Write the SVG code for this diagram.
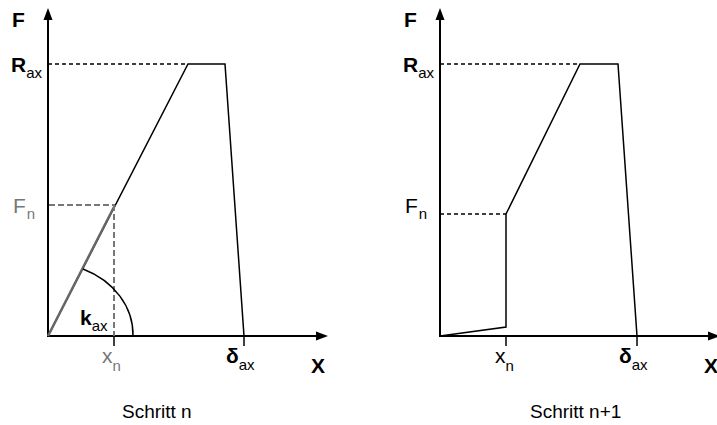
<svg xmlns="http://www.w3.org/2000/svg" width="717" height="425" viewBox="0 0 717 425">
<style>
.ax{stroke:#000;stroke-width:2;fill:none}
.ln{stroke:#000;stroke-width:1.5;fill:none}
.dash{stroke:#000;stroke-width:1.5;stroke-dasharray:4 3;fill:none}
.gdash{stroke:#777;stroke-width:2;stroke-dasharray:6 3;fill:none}
.t{font-family:"Liberation Sans",Arial,sans-serif}
.b{font-weight:bold;font-size:21px;fill:#000}
.s{font-size:15px}
.n{font-size:21px}
.cap{font-size:19px;fill:#000}
</style>
<rect width="717" height="425" fill="#fff"/>
<g id="chart-left">
  <g id="axes-left">
    <line class="ax" x1="48" y1="337" x2="48" y2="18"/>
    <polygon points="48,8 43.5,20 52.5,20" fill="#000"/>
    <line class="ax" x1="47" y1="336" x2="318" y2="336"/>
    <polygon points="328,336 316,331.5 316,340.5" fill="#000"/>
  </g>
  <g id="curve-left">
    <line class="dash" x1="48" y1="64" x2="188" y2="64"/>
    <polyline class="ln" points="48,336 188,64 225,64 244,336"/>
    <line class="ln" x1="244" y1="336" x2="244" y2="346"/>
    <line x1="48" y1="336" x2="115" y2="205" stroke="#666" stroke-width="2.5"/>
    <line class="gdash" x1="49" y1="205" x2="115" y2="205"/>
    <line class="gdash" x1="114" y1="205" x2="114" y2="336"/>
    <line class="ln" x1="114" y1="336" x2="114" y2="346"/>
    <path class="ln" d="M83,269 A85,72 0 0 1 133,336"/>
  </g>
  <g id="labels-left" class="t">
    <text class="b" x="12" y="27">F</text>
    <text class="b" x="11" y="72">R<tspan class="s" font-weight="normal" dy="6">ax</tspan></text>
    <text class="n" x="13" y="213" fill="#777">F<tspan class="s" dx="1" dy="6">n</tspan></text>
    <text class="b" x="80" y="325">k<tspan class="s" font-weight="normal" dy="6">ax</tspan></text>
    <text class="n" x="102" y="363" fill="#777">x<tspan class="s" dy="8">n</tspan></text>
    <text class="b" x="226" y="363">δ<tspan class="s" font-weight="normal" dy="7">ax</tspan></text>
    <text class="b" x="311" y="373" font-size="22">X</text>
    <text class="cap" x="122" y="418">Schritt n</text>
  </g>
</g>
<g id="chart-right">
  <g id="axes-right">
    <line class="ax" x1="440" y1="337" x2="440" y2="18"/>
    <polygon points="440,8 435.5,20 444.5,20" fill="#000"/>
    <line class="ax" x1="439" y1="336" x2="710" y2="336"/>
    <polygon points="720,336 708,331.5 708,340.5" fill="#000"/>
  </g>
  <g id="curve-right">
    <line class="dash" x1="440" y1="64" x2="580" y2="64"/>
    <polyline class="ln" points="506,214 580,64 618,64 637,336"/>
    <line class="ln" x1="637" y1="336" x2="637" y2="346"/>
    <line class="dash" x1="440" y1="214" x2="506" y2="214"/>
    <polyline class="ln" points="440,336 506,327 506,214"/>
    <line class="ln" x1="506" y1="336" x2="506" y2="346"/>
  </g>
  <g id="labels-right" class="t">
    <text class="b" x="404" y="27">F</text>
    <text class="b" x="403" y="72">R<tspan class="s" font-weight="normal" dy="6">ax</tspan></text>
    <text class="n" x="405" y="213" fill="#000">F<tspan class="s" dx="1" dy="6">n</tspan></text>
    <text class="n" x="495" y="363" fill="#000">x<tspan class="s" dy="8">n</tspan></text>
    <text class="b" x="619" y="363">δ<tspan class="s" font-weight="normal" dy="7">ax</tspan></text>
    <text class="b" x="704" y="373" font-size="22">X</text>
    <text class="cap" x="530" y="418">Schritt n+1</text>
  </g>
</g>
</svg>
